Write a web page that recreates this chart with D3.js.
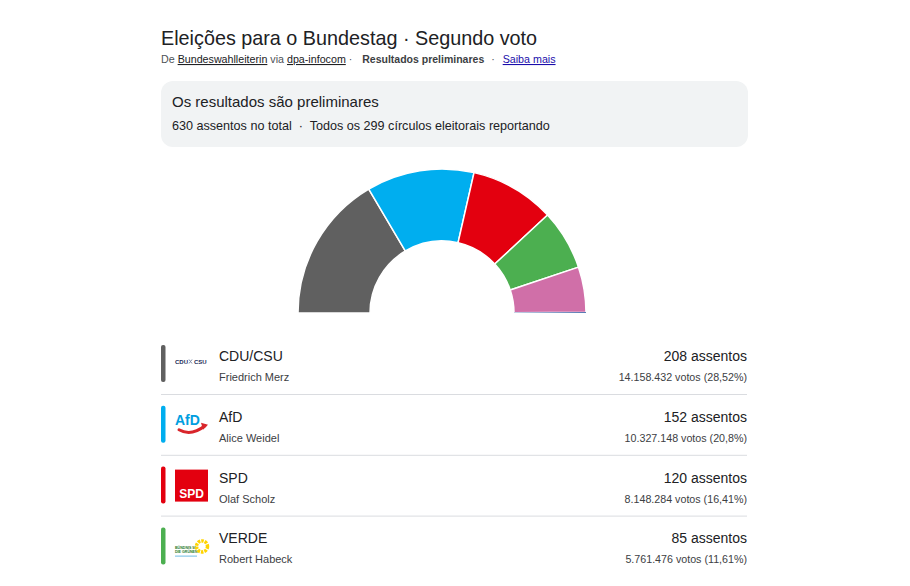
<!DOCTYPE html>
<html>
<head>
<meta charset="utf-8">
<script src="https://cdn.jsdelivr.net/npm/d3@7"></script>
<style>
  html, body { margin: 0; padding: 0; background: #fff; overflow: hidden; }
  svg { display: block; font-family: Arial, "Liberation Sans", sans-serif; }
  text { white-space: pre; }
</style>
</head>
<body>
<svg id="chart" width="910" height="586"></svg>
<script>
// ---- data ----
const parties    = ["CDU/CSU", "AfD", "SPD", "VERDE", "Die Linke", "SSW"];
const candidates = ["Friedrich Merz", "Alice Weidel", "Olaf Scholz", "Robert Habeck", "Heidi Reichinnek", "Stefan Seidler"];
const seats      = [208, 152, 120, 85, 64, 1];
const votes      = ["14.158.432", "10.327.148", "8.148.284", "5.761.476", "4.356.532", "76.138"];
const percents   = ["28,52%", "20,8%", "16,41%", "11,61%", "8,77%", "0,15%"];
const partyColors = ["#606060", "#00aeef", "#e3000f", "#4caf50", "#d06fa8", "#1f4e9c"];
const legendCount = 4;

const svg = d3.select("#chart");
const color = d3.scaleOrdinal().domain(parties).range(partyColors);
const rows = parties.map((p, i) => ({ party: p, candidate: candidates[i], seats: seats[i], votes: votes[i], pct: percents[i] }));

// ---- header ----
svg.append("text").attr("x", 161).attr("y", 45)
  .attr("font-size", 19.8).attr("fill", "#202124")
  .text("Eleições para o Bundestag · Segundo voto");

const sub = svg.append("text").attr("x", 161).attr("y", 63).attr("font-size", 10.7).attr("fill", "#4d5156");
sub.append("tspan").text("De ");
sub.append("tspan").attr("fill", "#202124").attr("text-decoration", "underline").text("Bundeswahlleiterin");
sub.append("tspan").text(" via ");
sub.append("tspan").attr("fill", "#202124").attr("text-decoration", "underline").text("dpa-infocom");
sub.append("tspan").text(" ·  ");
sub.append("tspan").attr("dx", 4).attr("fill", "#3c4043").attr("font-weight", "bold").attr("font-size", 10.5).text("Resultados preliminares");
sub.append("tspan").attr("dx", 1).text("  ·  ");
sub.append("tspan").attr("dx", 2).attr("fill", "#1a0dab").attr("text-decoration", "underline").text("Saiba mais");

// ---- info box ----
svg.append("rect").attr("x", 161).attr("y", 81).attr("width", 587).attr("height", 66)
  .attr("rx", 12).attr("fill", "#f1f3f4");
svg.append("text").attr("x", 172).attr("y", 107).attr("font-size", 15).attr("fill", "#202124")
  .text("Os resultados são preliminares");
svg.append("text").attr("x", 172).attr("y", 130).attr("font-size", 12.6).attr("fill", "#202124")
  .text("630 assentos no total  ·  Todos os 299 círculos eleitorais reportando");

// ---- hemicycle ----
const cx = 442, cy = 313, rOuter = 144, rInner = 72;
const pie = d3.pie().value(d => d.seats).sort(null)
  .startAngle(-Math.PI / 2).endAngle(Math.PI / 2);
const arc = d3.arc().innerRadius(rInner).outerRadius(rOuter);
svg.append("g").attr("transform", `translate(${cx},${cy})`)
  .selectAll("path").data(pie(rows)).join("path")
  .attr("d", arc)
  .attr("fill", d => color(d.data.party))
  .attr("stroke", "#fff").attr("stroke-width", d => d.data.seats < 5 ? 0 : 1.5)
  .attr("stroke-linejoin", "round");

// ---- legend list ----
const rowTop = 343, rowH = 60.8, left = 161, right = 747;
const y = d3.scaleLinear().domain([0, 1]).range([rowTop, rowTop + rowH]);
const list = svg.append("g");
const row = list.selectAll("g.row").data(rows.slice(0, legendCount)).join("g")
  .attr("class", "row")
  .attr("transform", (d, i) => `translate(0,${y(i)})`);

row.append("rect").attr("x", left).attr("y", 2).attr("width", 4.5).attr("height", 37)
  .attr("rx", 2).attr("fill", d => color(d.party));
row.append("text").attr("x", 219).attr("y", 18).attr("font-size", 14).attr("fill", "#202124")
  .text(d => d.party);
row.append("text").attr("x", 219).attr("y", 38).attr("font-size", 11).attr("fill", "#3c4043")
  .text(d => d.candidate);
row.append("text").attr("x", right).attr("y", 18).attr("font-size", 14).attr("fill", "#202124")
  .attr("text-anchor", "end").text(d => `${d.seats} assentos`);
row.append("text").attr("x", right).attr("y", 38).attr("font-size", 10.7).attr("fill", "#3c4043")
  .attr("text-anchor", "end").text(d => `${d.votes} votos (${d.pct})`);
row.filter((d, i) => i < legendCount - 1).append("line")
  .attr("x1", left).attr("x2", right).attr("y1", 51.5).attr("y2", 51.5)
  .attr("stroke", "#dadce0").attr("stroke-width", 1);

// ---- logos ----
row.each(function (d) {
  const g = d3.select(this).append("g").attr("transform", "translate(175,3)");
  if (d.party === "CDU/CSU") {
    g.append("text").attr("x", 0).attr("y", 17.5).attr("font-size", 6).attr("font-weight", "bold")
      .attr("fill", "#1b2a55").text("CDU");
    g.append("path").attr("d", "M14,13.5 L17,17.5 M17,13.5 L14,17.5").attr("stroke", "#7d8aa6")
      .attr("stroke-width", 1);
    g.append("text").attr("x", 19).attr("y", 17.5).attr("font-size", 6).attr("font-weight", "bold")
      .attr("fill", "#1b2a55").text("CSU");
  } else if (d.party === "AfD") {
    g.append("text").attr("x", 0).attr("y", 18).attr("font-size", 14).attr("font-weight", "bold")
      .attr("fill", "#009ee0").text("AfD");
    g.append("path").attr("d", "M4,23 Q16,30 30,19").attr("fill", "none")
      .attr("stroke", "#d9252b").attr("stroke-width", 3).attr("stroke-linecap", "round");
    g.append("path").attr("d", "M26,16 L33,18 L28,23 Z").attr("fill", "#d9252b");
  } else if (d.party === "SPD") {
    g.append("rect").attr("x", 0).attr("y", 2).attr("width", 33).attr("height", 32).attr("fill", "#e3000f");
    g.append("text").attr("x", 16.5).attr("y", 30).attr("font-size", 12).attr("font-weight", "bold")
      .attr("text-anchor", "middle").attr("fill", "#fff").text("SPD");
  } else if (d.party === "VERDE") {
    g.append("text").attr("x", 0).attr("y", 21).attr("font-size", 3.6).attr("font-weight", "bold")
      .attr("fill", "#2a7a2a").text("BÜNDNIS 90");
    g.append("text").attr("x", 0).attr("y", 25).attr("font-size", 3.6).attr("font-weight", "bold")
      .attr("fill", "#2a7a2a").text("DIE GRÜNEN");
    g.append("rect").attr("x", 0).attr("y", 27).attr("width", 22).attr("height", 1.5).attr("fill", "#9fd3ee");
    g.append("circle").attr("cx", 27).attr("cy", 18).attr("r", 5.5).attr("fill", "none")
      .attr("stroke", "#ffd400").attr("stroke-width", 3.5).attr("stroke-dasharray", "2.5 1");
    g.append("circle").attr("cx", 27).attr("cy", 18).attr("r", 2.5).attr("fill", "#ffffff");
  }
});
</script>
</body>
</html>
